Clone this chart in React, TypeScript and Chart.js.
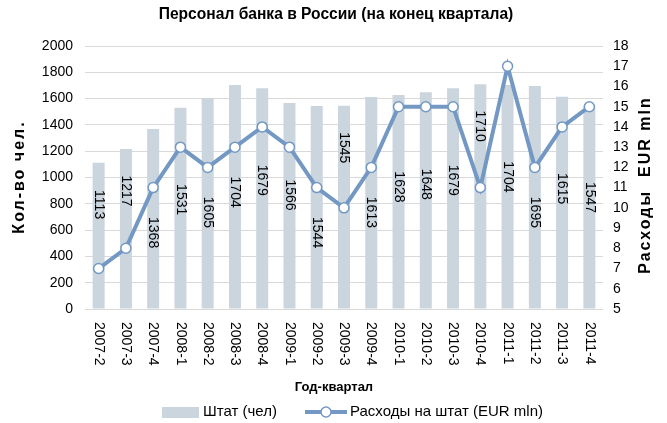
import React, { useEffect, useRef } from 'react';
import { Chart, registerables } from 'chart.js';

Chart.register(...registerables);

const quarters = ['2007-2', '2007-3', '2007-4', '2008-1', '2008-2', '2008-3', '2008-4', '2009-1', '2009-2', '2009-3', '2009-4', '2010-1', '2010-2', '2010-3', '2010-4', '2011-1', '2011-2', '2011-3', '2011-4'];
const staff = [1113, 1217, 1368, 1531, 1605, 1704, 1679, 1566, 1544, 1545, 1613, 1628, 1648, 1679, 1710, 1704, 1695, 1615, 1547];
const expenses = [7, 8, 11, 13, 12, 13, 14, 13, 11, 10, 12, 15, 15, 15, 11, 17, 12, 14, 15];

const titleText = 'Персонал банка в России (на конец квартала)';
const leftTitle = 'Кол-во чел.';
const rightTitle = 'Расходы  EUR mln';
const xTitle = 'Год-квартал';
const staffLabel = 'Штат (чел)';
const expensesLabel = 'Расходы на штат (EUR mln)';

const FONT = '"Liberation Sans", Arial, sans-serif';
const BAR_COLOR = '#cbd5de';
const LINE_COLOR = '#7398c4';

const decorPlugin = {
  id: 'decor',
  afterDatasetsDraw(chart: any) {
    const ctx = chart.ctx;
    const barMeta = chart.getDatasetMeta(0);
    const lineMeta = chart.getDatasetMeta(1);
    ctx.save();
    ctx.font = `14px ${FONT}`;
    ctx.fillStyle = '#000';
    ctx.textAlign = 'center';
    ctx.textBaseline = 'middle';
    barMeta.data.forEach((bar: any, i: number) => {
      const pt = lineMeta.data[i];
      const barTop = bar.y;
      const gap = pt.y - barTop;
      let cy: number;
      if (gap > 95) cy = barTop + 42;
      else cy = Math.max(pt.y + 45, barTop + 92);
      ctx.save();
      ctx.translate(bar.x, cy);
      ctx.rotate(Math.PI / 2);
      ctx.fillText(String(staff[i]), 0, 0);
      ctx.restore();
    });
    ctx.restore();
  },
  afterDraw(chart: any) {
    const ctx = chart.ctx;
    const area = chart.chartArea;
    const xs = chart.scales.x;
    ctx.save();
    // title
    ctx.fillStyle = '#000';
    ctx.font = `bold 15.6px ${FONT}`;
    ctx.textAlign = 'center';
    ctx.textBaseline = 'middle';
    ctx.fillText(titleText, 336, 15);
    // x labels
    ctx.font = `14px ${FONT}`;
    ctx.textAlign = 'left';
    quarters.forEach((q, i) => {
      const x = xs.getPixelForValue(i);
      ctx.save();
      ctx.translate(x, area.bottom + 13);
      ctx.rotate(Math.PI / 2);
      ctx.fillText(q, 0, 0);
      ctx.restore();
    });
    // x title
    ctx.font = `bold 13px ${FONT}`;
    ctx.textAlign = 'center';
    ctx.fillText(xTitle, 334, 387);
    // axis titles
    ctx.font = `bold 16px ${FONT}`;
    try { (ctx as any).letterSpacing = '2px'; } catch (e) {}
    ctx.save();
    ctx.translate(20, 177);
    ctx.rotate(-Math.PI / 2);
    ctx.fillText(leftTitle, 0, 0);
    ctx.restore();
    ctx.save();
    ctx.translate(646, 185);
    ctx.rotate(-Math.PI / 2);
    ctx.fillText(rightTitle, 0, 0);
    ctx.restore();
    try { (ctx as any).letterSpacing = '0px'; } catch (e) {}
    // legend
    const ly = 412;
    ctx.fillStyle = BAR_COLOR;
    ctx.fillRect(162, 407, 37, 11);
    ctx.fillStyle = '#000';
    ctx.font = `15px ${FONT}`;
    ctx.textAlign = 'left';
    ctx.fillText(staffLabel, 203, ly);
    ctx.strokeStyle = LINE_COLOR;
    ctx.lineWidth = 4;
    ctx.beginPath();
    ctx.moveTo(305, ly);
    ctx.lineTo(347, ly);
    ctx.stroke();
    ctx.beginPath();
    ctx.arc(326, ly, 5, 0, Math.PI * 2);
    ctx.fillStyle = '#fff';
    ctx.fill();
    ctx.lineWidth = 1.5;
    ctx.stroke();
    ctx.fillStyle = '#000';
    ctx.fillText(expensesLabel, 350, ly);
    ctx.restore();
  },
};

export default function App() {
  const ref = useRef<HTMLCanvasElement | null>(null);
  useEffect(() => {
    if (!ref.current) return;
    const chart = new Chart(ref.current, {
      type: 'bar',
      data: {
        labels: quarters,
        datasets: [
          {
            type: 'bar',
            label: staffLabel,
            data: staff,
            backgroundColor: BAR_COLOR,
            yAxisID: 'y',
            barPercentage: 0.44,
            categoryPercentage: 1,
            order: 2,
          },
          {
            type: 'line',
            label: expensesLabel,
            data: expenses,
            borderColor: LINE_COLOR,
            borderWidth: 4,
            pointRadius: 5,
            pointBorderWidth: 1.5,
            pointBackgroundColor: '#fff',
            pointBorderColor: LINE_COLOR,
            yAxisID: 'y1',
            tension: 0,
            order: 1,
          } as any,
        ],
      },
      options: {
        animation: false,
        responsive: true,
        maintainAspectRatio: false,
        layout: { padding: { top: 46, left: 0, right: 0, bottom: 0 } },
        plugins: { legend: { display: false }, tooltip: { enabled: false }, title: { display: false } },
        scales: {
          x: {
            type: 'category',
            offset: true,
            grid: { display: false },
            border: { display: false },
            ticks: { display: false },
            afterFit: (s: any) => { s.height = 114; },
          },
          y: {
            position: 'left',
            min: 0,
            max: 2000,
            ticks: { stepSize: 200, padding: 12, color: '#000', font: { family: FONT, size: 14 }, callback: (v: any) => String(v) },
            grid: { color: '#d9d9d9', drawTicks: false },
            border: { display: false },
            afterFit: (s: any) => { s.width = 85; },
          },
          y1: {
            position: 'right',
            min: 5,
            max: 18,
            ticks: { stepSize: 1, padding: 10, color: '#000', font: { family: FONT, size: 14 }, callback: (v: any) => String(v) },
            grid: { display: false, drawTicks: false },
            border: { display: false },
            afterFit: (s: any) => { s.width = 64; },
          },
        } as any,
      },
      plugins: [decorPlugin],
    });
    return () => chart.destroy();
  }, []);
  return (
    <div style={{ position: 'fixed', left: 0, top: 0, width: 667, height: 423, background: '#fff' }}>
      <canvas ref={ref} />
    </div>
  );
}
